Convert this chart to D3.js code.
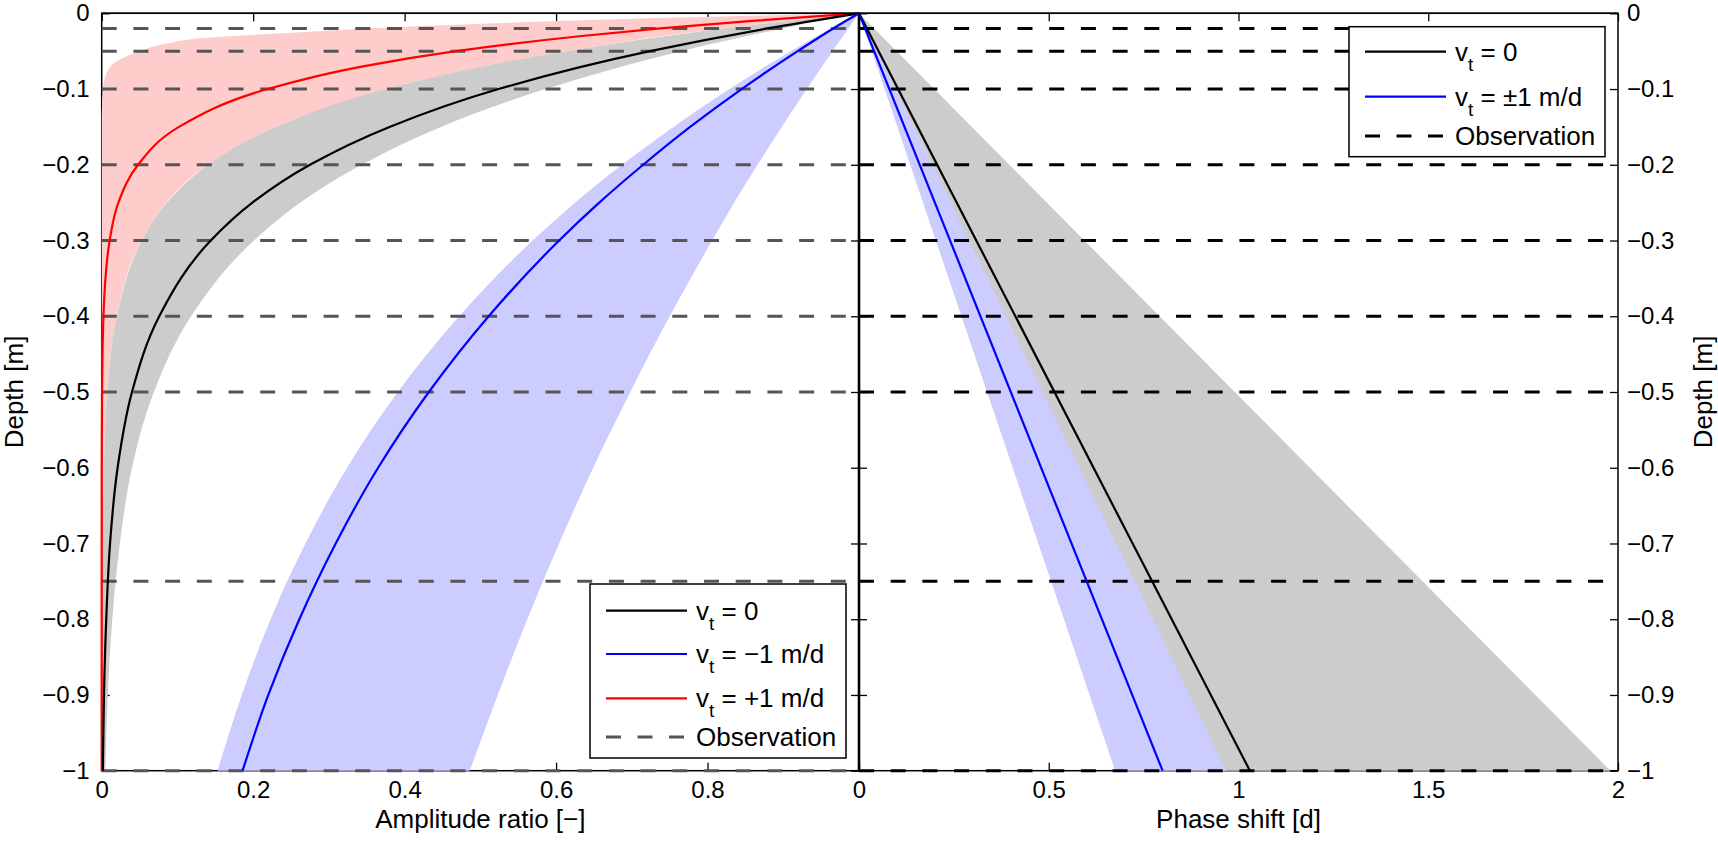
<!DOCTYPE html>
<html>
<head>
<meta charset="utf-8">
<script src="https://cdn.jsdelivr.net/npm/d3@7"></script>
<style>
  html, body { margin: 0; padding: 0; background: #fff; }
  svg { display: block; font-family: "Liberation Sans", Arial, Helvetica, sans-serif; }
</style>
</head>
<body>
<svg id="chart" width="1718" height="844"></svg>
<script>
// ---- amplitude ratio profiles (depth in m, negative downwards) ----
const ampDepth      = [0, -0.02, -0.05, -0.1, -0.15, -0.2, -0.25, -0.3, -0.4, -0.5, -0.6, -0.7, -0.8, -0.9, -1.0];
const ampZero       = [1, 0.879, 0.724, 0.524, 0.380, 0.275, 0.199, 0.144, 0.076, 0.040, 0.021, 0.011, 0.006, 0.003, 0.0016];
const ampZeroLo     = [1, 0.822, 0.613, 0.375, 0.230, 0.141, 0.086, 0.053, 0.020, 0.0074, 0.0028, 0.001, 0.0004, 0.0001, 0];
const ampZeroHi     = [1, 0.899, 0.765, 0.586, 0.448, 0.343, 0.262, 0.201, 0.118, 0.069, 0.040, 0.024, 0.014, 0.008, 0.005];
const ampUp         = [1, 0.966, 0.919, 0.845, 0.777, 0.715, 0.657, 0.604, 0.511, 0.432, 0.365, 0.309, 0.261, 0.220, 0.186];
const ampUpLo       = [1, 0.963, 0.910, 0.829, 0.755, 0.687, 0.625, 0.569, 0.472, 0.391, 0.324, 0.269, 0.223, 0.185, 0.153];
const ampUpHi       = [1, 0.986, 0.965, 0.931, 0.898, 0.866, 0.835, 0.806, 0.750, 0.698, 0.649, 0.604, 0.562, 0.523, 0.486];

const redDepth      = [0, -0.01, -0.02, -0.03, -0.05, -0.07, -0.1, -0.15, -0.2, -0.25, -0.3, -0.4, -0.5, -0.6, -0.8, -1.0];
const ampDown       = [1, 0.859, 0.738, 0.634, 0.468, 0.345, 0.219, 0.102, 0.048, 0.022, 0.0105, 0.0023, 0.0005, 0.0001, 0, 0];

const pinkDepth     = [0, -0.006, -0.013, -0.019, -0.025, -0.033, -0.04, -0.053, -0.071, -0.097, -0.137, -0.2, -0.3, -0.4, -0.5, -0.6, -0.7, -0.8, -0.9, -1.0];
const ampDownLo     = [1, 0.75, 0.52, 0.37, 0.262, 0.13, 0.086, 0.042, 0.011, 0.002, 0, 0, 0, 0, 0, 0, 0, 0, 0, 0];
const ampDownHi     = [1, 0.943, 0.88, 0.83, 0.78, 0.72, 0.676, 0.595, 0.50, 0.387, 0.262, 0.141, 0.053, 0.02, 0.0074, 0.003, 0.001, 0, 0, 0];

// ---- phase shift profiles (linear in depth) ----
const phaseDepth    = [0, -1.0];
const phaseZero     = [0, 1.03];
const phaseZeroLo   = [0, 0.94];
const phaseZeroHi   = [0, 1.98];
const phaseFlow     = [0, 0.80];
const phaseFlowLo   = [0, 0.675];
const phaseFlowHi   = [0, 0.968];

// ---- observation depths and axes ----
const obsDepths     = [-0.02, -0.05, -0.1, -0.2, -0.3, -0.4, -0.5, -0.75, -1.0];
const depthTicks    = [0, -0.1, -0.2, -0.3, -0.4, -0.5, -0.6, -0.7, -0.8, -0.9, -1];
const depthLabels   = ["0", "\u22120.1", "\u22120.2", "\u22120.3", "\u22120.4", "\u22120.5", "\u22120.6", "\u22120.7", "\u22120.8", "\u22120.9", "\u22121"];
const ampTicks      = [0, 0.2, 0.4, 0.6, 0.8];
const ampLabels     = ["0", "0.2", "0.4", "0.6", "0.8"];
const phaseTicks    = [0, 0.5, 1, 1.5, 2];
const phaseLabels   = ["0", "0.5", "1", "1.5", "2"];

const svg = d3.select("#chart");
const TOP = 13.3, BOT = 770.7, L = 101.7, MID = 859, R = 1618;
const TICK = 8;

const y  = d3.scaleLinear().domain([0, -1]).range([TOP, BOT]);
const xA = d3.scaleLinear().domain([0, 1]).range([L, MID]);
const xP = d3.scaleLinear().domain([0, 2]).range([MID, R]);

const rows = (d, a) => d.map((v, i) => ({ d: v, v: a[i] }));
const band = (d, lo, hi) => d.map((v, i) => ({ d: v, lo: lo[i], hi: hi[i] }));

function styleAxis(g, size) {
  g.select(".domain").remove();
  g.selectAll("line").attr("stroke", "#000").attr("stroke-width", 1.3);
  g.selectAll("text").attr("font-size", size).attr("fill", "#000");
}

function panel(x, ticks, labels, withLeftLabels, withRightLabels) {
  const gAx = svg.append("g");
  gAx.append("g").attr("transform", `translate(0,${BOT})`)
    .call(d3.axisBottom(x).tickValues(ticks).tickFormat((d, i) => labels[i]).tickSizeInner(-TICK).tickSizeOuter(0).tickPadding(10))
    .call(g => styleAxis(g, 24));
  gAx.append("g").attr("transform", `translate(0,${TOP})`)
    .call(d3.axisTop(x).tickValues(ticks).tickFormat("").tickSizeInner(-TICK).tickSizeOuter(0))
    .call(g => styleAxis(g, 24));
  const [x0, x1] = x.range();
  gAx.append("g").attr("transform", `translate(${x0},0)`)
    .call(d3.axisLeft(y).tickValues(depthTicks).tickFormat((d, i) => withLeftLabels ? depthLabels[i] : "").tickSizeInner(-TICK).tickSizeOuter(0).tickPadding(12))
    .call(g => styleAxis(g, 24));
  gAx.append("g").attr("transform", `translate(${x1},0)`)
    .call(d3.axisRight(y).tickValues(depthTicks).tickFormat((d, i) => withRightLabels ? depthLabels[i] : "").tickSizeInner(-TICK).tickSizeOuter(0).tickPadding(9))
    .call(g => styleAxis(g, 24));
  gAx.append("rect").attr("x", x0).attr("y", TOP).attr("width", x1 - x0).attr("height", BOT - TOP)
    .attr("fill", "none").attr("stroke", "#000").attr("stroke-width", 1.5);
  return gAx;
}

const area = (x) => d3.area().curve(d3.curveMonotoneY).y(p => y(p.d)).x0(p => x(p.lo)).x1(p => x(p.hi));
const line = (x) => d3.line().curve(d3.curveMonotoneY).y(p => y(p.d)).x(p => x(p.v));

// ===== Left panel: amplitude ratio =====
panel(xA, ampTicks, ampLabels, true, false);
const gA = svg.append("g");
gA.append("path").datum(band(pinkDepth, ampDownLo, ampDownHi)).attr("d", area(xA)).attr("fill", "#ffcccc");
gA.append("path").datum(band(ampDepth, ampZeroLo, ampZeroHi)).attr("d", area(xA)).attr("fill", "#cccccc");
gA.append("path").datum(band(ampDepth, ampUpLo, ampUpHi)).attr("d", area(xA)).attr("fill", "#ccccff");
gA.selectAll("line.obs").data(obsDepths).join("line").attr("class", "obs")
  .attr("x1", L).attr("x2", MID).attr("y1", d => y(d)).attr("y2", d => y(d))
  .attr("stroke", "#555").attr("stroke-width", 3).attr("stroke-dasharray", "15 16.7");
gA.append("path").datum(rows(redDepth, ampDown)).attr("d", line(xA)).attr("fill", "none").attr("stroke", "#ff0000").attr("stroke-width", 2.2);
gA.append("path").datum(rows(ampDepth, ampZero)).attr("d", line(xA)).attr("fill", "none").attr("stroke", "#000").attr("stroke-width", 2.2);
gA.append("path").datum(rows(ampDepth, ampUp)).attr("d", line(xA)).attr("fill", "none").attr("stroke", "#0000ff").attr("stroke-width", 2.2);

// ===== Right panel: phase shift =====
panel(xP, phaseTicks, phaseLabels, false, true);
const gP = svg.append("g");
gP.append("path").datum(band(phaseDepth, phaseZeroLo, phaseZeroHi)).attr("d", area(xP)).attr("fill", "#cccccc");
gP.append("path").datum(band(phaseDepth, phaseFlowLo, phaseFlowHi)).attr("d", area(xP)).attr("fill", "#ccccff");
gP.selectAll("line.obs").data(obsDepths).join("line").attr("class", "obs")
  .attr("x1", MID).attr("x2", R).attr("y1", d => y(d)).attr("y2", d => y(d))
  .attr("stroke", "#000").attr("stroke-width", 3).attr("stroke-dasharray", "15 16.7");
gP.append("path").datum(rows(phaseDepth, phaseZero)).attr("d", line(xP)).attr("fill", "none").attr("stroke", "#000").attr("stroke-width", 2.2);
gP.append("path").datum(rows(phaseDepth, phaseFlow)).attr("d", line(xP)).attr("fill", "none").attr("stroke", "#0000ff").attr("stroke-width", 2.2);

// shared axis between the panels
svg.append("line").attr("x1", MID).attr("x2", MID).attr("y1", TOP).attr("y2", BOT).attr("stroke", "#000").attr("stroke-width", 2.6);
svg.append("line").attr("x1", L).attr("x2", R).attr("y1", TOP).attr("y2", TOP).attr("stroke", "#000").attr("stroke-width", 1.5);

// ===== axis titles =====
svg.append("text").attr("x", (L + MID) / 2).attr("y", 828).attr("text-anchor", "middle").attr("font-size", 26).text("Amplitude ratio [\u2212]");
svg.append("text").attr("x", (MID + R) / 2).attr("y", 828).attr("text-anchor", "middle").attr("font-size", 26).text("Phase shift [d]");
svg.append("text").attr("transform", `translate(23,${(TOP + BOT) / 2}) rotate(-90)`).attr("text-anchor", "middle").attr("font-size", 26).text("Depth [m]");
svg.append("text").attr("transform", `translate(1712,${(TOP + BOT) / 2}) rotate(-90)`).attr("text-anchor", "middle").attr("font-size", 26).text("Depth [m]");

// ===== legends =====
function legend(box, items) {
  const g = svg.append("g");
  g.append("rect").attr("x", box.x).attr("y", box.y).attr("width", box.w).attr("height", box.h)
    .attr("fill", "#fff").attr("stroke", "#000").attr("stroke-width", 1.5);
  items.forEach(it => {
    g.append("line").attr("x1", box.x + 16).attr("x2", box.x + 97).attr("y1", it.y).attr("y2", it.y)
      .attr("stroke", it.color).attr("stroke-width", it.dash ? 3 : 2.2)
      .attr("stroke-dasharray", it.dash ? "15 16.5" : null);
    const t = g.append("text").attr("x", box.x + 106).attr("y", it.y + 9).attr("font-size", 26);
    if (it.sub) {
      t.append("tspan").text("v");
      t.append("tspan").attr("dy", 10).attr("font-size", 19).text("t");
      t.append("tspan").attr("dy", -10).text(" = " + it.rest);
    } else {
      t.text(it.rest);
    }
  });
}
legend({ x: 590, y: 584, w: 256, h: 174 }, [
  { y: 610.7, color: "#000", sub: true, rest: "0" },
  { y: 654, color: "#0000ff", sub: true, rest: "\u22121 m/d" },
  { y: 698.3, color: "#ff0000", sub: true, rest: "+1 m/d" },
  { y: 737, color: "#555", dash: true, rest: "Observation" }
]);
legend({ x: 1349, y: 26.7, w: 256, h: 130 }, [
  { y: 51.7, color: "#000", sub: true, rest: "0" },
  { y: 96.7, color: "#0000ff", sub: true, rest: "\u00b11 m/d" },
  { y: 136, color: "#000", dash: true, rest: "Observation" }
]);
</script>
</body>
</html>
